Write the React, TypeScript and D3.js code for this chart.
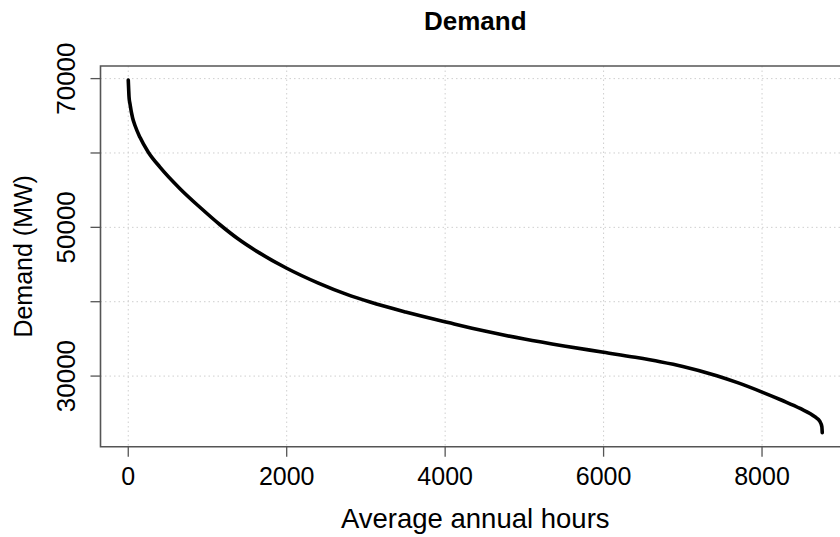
import React, { useEffect, useRef } from "react";
import * as d3 from "d3";

// load duration curve
const hours = [0, 5, 10, 21, 55, 85, 148, 253, 400, 653, 905, 1158, 1389, 1650, 2000, 2400, 2758, 3052, 3500, 4040, 4500, 5000, 5500, 6000, 6400, 6713, 7000, 7429, 7700, 8000, 8250, 8481, 8670, 8730, 8755, 8760];
const demand = [69800, 68600, 67500, 66640, 64700, 63700, 62100, 60100, 58100, 55200, 52700, 50350, 48430, 46600, 44500, 42500, 40980, 39950, 38620, 37200, 36050, 34980, 34050, 33200, 32520, 31930, 31300, 30050, 29080, 27850, 26750, 25650, 24500, 23900, 23200, 22400];

const xTicks = [0, 2000, 4000, 6000, 8000];
const yTicks = [30000, 40000, 50000, 60000, 70000];
const yLabels = [30000, 50000, 70000];

const W = 840;
const H = 537;

const App = () => {
  const svgRef = useRef<SVGSVGElement>(null);

  useEffect(() => {
    const svg = d3.select(svgRef.current);
    svg.selectAll("*").remove();

    const left = 100.5, top = 66, bottom = 446.7, right = 850;
    const data = hours.map((h, i) => ({ h, d: demand[i] }));

    // R style 4% padding
    const [x0, x1] = d3.extent(hours) as [number, number];
    const [y0, y1] = d3.extent(demand) as [number, number];
    const px = (x1 - x0) * 0.04, py = (y1 - y0) * 0.04;
    const x = d3.scaleLinear().domain([x0 - px, x1 + px]).range([left, right]);
    const y = d3.scaleLinear().domain([y0 - py, y1 + py]).range([bottom, top]);

    const font = "Arial, 'Liberation Sans', sans-serif";
    const axisCol = "#555";

    // grid
    svg.append("g")
      .selectAll("line")
      .data(xTicks)
      .join("line")
      .attr("x1", (d) => x(d)).attr("x2", (d) => x(d))
      .attr("y1", top).attr("y2", bottom)
      .attr("stroke", "#cfcfcf").attr("stroke-width", 1)
      .attr("stroke-dasharray", "1.5,3");
    svg.append("g")
      .selectAll("line")
      .data(yTicks)
      .join("line")
      .attr("x1", left).attr("x2", right)
      .attr("y1", (d) => y(d)).attr("y2", (d) => y(d))
      .attr("stroke", "#cfcfcf").attr("stroke-width", 1)
      .attr("stroke-dasharray", "1.5,3");

    // curve
    const line = d3.line<{ h: number; d: number }>()
      .x((d) => x(d.h))
      .y((d) => y(d.d))
      .curve(d3.curveMonotoneX);
    svg.append("path")
      .datum(data)
      .attr("d", line)
      .attr("fill", "none")
      .attr("stroke", "#000")
      .attr("stroke-width", 3.6)
      .attr("stroke-linecap", "round");

    // box (right edge runs off the page)
    svg.append("path")
      .attr("d", `M${right},${top}H${left}V${bottom}H${right}`)
      .attr("fill", "none")
      .attr("stroke", axisCol)
      .attr("stroke-width", 1.6);

    // x axis
    const xa = svg.append("g");
    xa.selectAll("line")
      .data(xTicks)
      .join("line")
      .attr("x1", (d) => x(d)).attr("x2", (d) => x(d))
      .attr("y1", bottom).attr("y2", bottom + 10)
      .attr("stroke", axisCol).attr("stroke-width", 1.3);
    xa.selectAll("text")
      .data(xTicks)
      .join("text")
      .attr("x", (d) => x(d))
      .attr("y", 485)
      .attr("text-anchor", "middle")
      .style("font-family", font)
      .style("font-size", "25px")
      .text((d) => String(d));

    // y axis
    const ya = svg.append("g");
    ya.selectAll("line")
      .data(yTicks)
      .join("line")
      .attr("x1", left - 10).attr("x2", left)
      .attr("y1", (d) => y(d)).attr("y2", (d) => y(d))
      .attr("stroke", axisCol).attr("stroke-width", 1.3);
    ya.selectAll("text")
      .data(yLabels)
      .join("text")
      .attr("transform", (d) => `translate(75,${y(d)}) rotate(-90)`)
      .attr("text-anchor", "middle")
      .style("font-family", font)
      .style("font-size", "26px")
      .text((d) => String(d));

    // titles
    svg.append("text")
      .attr("x", (left + right) / 2)
      .attr("y", 30)
      .attr("text-anchor", "middle")
      .style("font-family", font)
      .style("font-weight", "bold")
      .style("font-size", "26px")
      .text("Demand");
    svg.append("text")
      .attr("x", (left + right) / 2)
      .attr("y", 528)
      .attr("text-anchor", "middle")
      .style("font-family", font)
      .style("font-size", "27.5px")
      .text("Average annual hours");
    svg.append("text")
      .attr("transform", `translate(32,${(top + bottom) / 2}) rotate(-90)`)
      .attr("text-anchor", "middle")
      .style("font-family", font)
      .style("font-size", "25px")
      .text("Demand (MW)");
  }, []);

  return (
    <svg
      ref={svgRef}
      width={W}
      height={H}
      style={{ position: "absolute", left: 0, top: 0, background: "#fff" }}
    ></svg>
  );
};

export default App;
